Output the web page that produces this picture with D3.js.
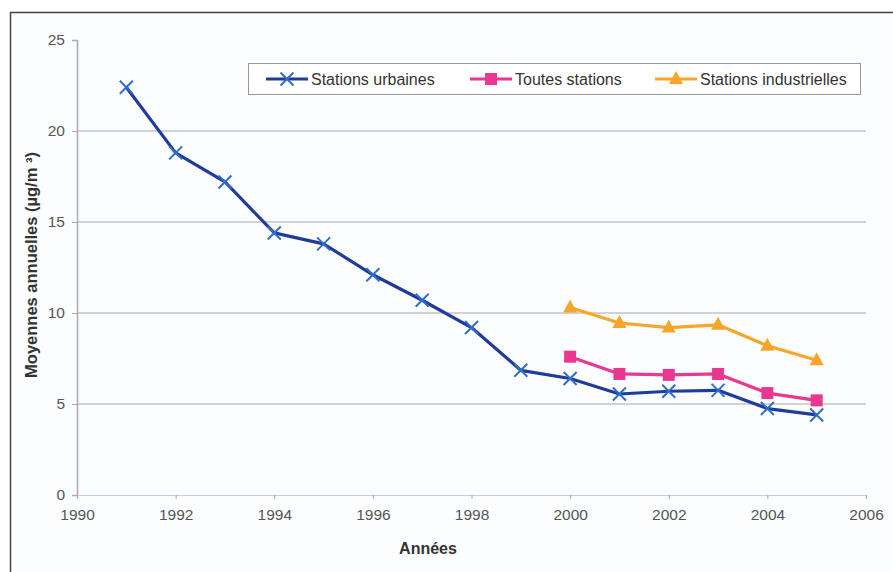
<!DOCTYPE html>
<html><head><meta charset="utf-8">
<script src="https://cdn.jsdelivr.net/npm/d3@7"></script>
<style>body{margin:0;background:#fff}svg{display:block;font-family:"Liberation Sans",Arial,sans-serif}</style>
</head><body>
<svg id="c" width="893" height="572"></svg>
<script>
const yearsUrb = [1991,1992,1993,1994,1995,1996,1997,1998,1999,2000,2001,2002,2003,2004,2005];
const urbaines = [22.4,18.8,17.2,14.4,13.8,12.1,10.7,9.2,6.85,6.4,5.55,5.7,5.75,4.75,4.4];
const yearsRecent = [2000,2001,2002,2003,2004,2005];
const toutes = [7.6,6.65,6.6,6.65,5.6,5.2];
const industrielles = [10.3,9.45,9.2,9.35,8.2,7.4];
const xTicks = [1990,1992,1994,1996,1998,2000,2002,2004,2006];
const yTicks = [0,5,10,15,20,25];
const seriesNames = ["Stations urbaines","Toutes stations","Stations industrielles"];

const svg = d3.select("#c");
const blue = "#1f3b9b", pink = "#e8388f", orange = "#f7a62a";

// outer frame
svg.append("rect").attr("x",10.5).attr("y",12.5).attr("width",900).attr("height",600)
  .attr("fill","#fcfdfe").attr("stroke","#444").attr("stroke-width",1.5);

const x = d3.scaleLinear().domain([1990,2006]).range([77,866]);
const y = d3.scaleLinear().domain([0,25]).range([495,40]);

// gridlines
svg.append("g").selectAll("line").data(yTicks.filter(d=>d>0&&d<25)).join("line")
  .attr("x1",x(1990)).attr("x2",x(2006)).attr("y1",d=>y(d)).attr("y2",d=>y(d))
  .attr("stroke","#a8a8a8").attr("stroke-width",1.2);

// y axis
const ya = svg.append("g").attr("transform",`translate(${x(1990)},0)`)
  .call(d3.axisLeft(y).tickValues(yTicks).tickSize(5).tickPadding(7));
ya.select(".domain").attr("stroke","#aaa").attr("stroke-width",1.5);
ya.selectAll(".tick line").attr("stroke","#aaa");
ya.selectAll("text").attr("font-size",15.5).attr("fill","#555").attr("font-family","Liberation Sans, Arial, sans-serif");

// x axis
const xa = svg.append("g").attr("transform",`translate(0,${y(0)})`)
  .call(d3.axisBottom(x).tickValues(xTicks).tickFormat(d3.format("d")).tickSize(4).tickPadding(10));
xa.select(".domain").attr("stroke","#ccc").attr("stroke-width",1.2);
xa.selectAll(".tick line").attr("stroke","#aaa");
xa.selectAll("text").attr("font-size",15.5).attr("fill","#555").attr("font-family","Liberation Sans, Arial, sans-serif");

// axis titles
svg.append("text").attr("x",428).attr("y",554).attr("text-anchor","middle")
  .attr("font-size",16).attr("font-weight","bold").attr("fill","#333").text("Années");
svg.append("text").attr("transform","translate(37,265) rotate(-90)").attr("text-anchor","middle")
  .attr("font-size",16.5).attr("font-weight","bold").attr("fill","#333")
  .text("Moyennes annuelles (µg/m  ³)");

const line = d3.line().x(d=>x(d[0])).y(d=>y(d[1]));
const dUrb = yearsUrb.map((yr,i)=>[yr,urbaines[i]]);
const dTout = yearsRecent.map((yr,i)=>[yr,toutes[i]]);
const dInd = yearsRecent.map((yr,i)=>[yr,industrielles[i]]);

function drawSeries(data,color,marker){
  svg.append("path").datum(data).attr("d",line).attr("fill","none")
    .attr("stroke",color).attr("stroke-width",3.2).attr("stroke-linejoin","round");
  const g = svg.append("g");
  data.forEach(d=>marker(g,x(d[0]),y(d[1])));
}
function cross(g,cx,cy){
  const s=6.5;
  g.append("path").attr("d",`M${cx-s},${cy-s}L${cx+s},${cy+s}M${cx-s},${cy+s}L${cx+s},${cy-s}`)
    .attr("stroke","#2f6fc9").attr("stroke-width",2);
}
function square(g,cx,cy){
  g.append("rect").attr("x",cx-6).attr("y",cy-6).attr("width",12).attr("height",12).attr("fill",pink);
}
function tri(g,cx,cy){
  g.append("path").attr("d",`M${cx},${cy-8}L${cx+7},${cy+5}L${cx-7},${cy+5}Z`).attr("fill",orange);
}
drawSeries(dInd,orange,tri);
drawSeries(dTout,pink,square);
drawSeries(dUrb,blue,cross);

// legend
const lg = svg.append("g");
lg.append("rect").attr("x",248.5).attr("y",63.5).attr("width",612).attr("height",31)
  .attr("fill","#fff").attr("stroke","#999").attr("stroke-width",1);
const items = [
  {name:seriesNames[0],color:blue,m:cross,x:266},
  {name:seriesNames[1],color:pink,m:square,x:470},
  {name:seriesNames[2],color:orange,m:tri,x:655}
];
items.forEach(it=>{
  lg.append("line").attr("x1",it.x).attr("x2",it.x+42).attr("y1",79).attr("y2",79)
    .attr("stroke",it.color).attr("stroke-width",3.2);
  it.m(lg,it.x+21,79);
  lg.append("text").attr("x",it.x+45).attr("y",84.5).attr("font-size",16).attr("fill","#333").text(it.name);
});
</script>
</body></html>
